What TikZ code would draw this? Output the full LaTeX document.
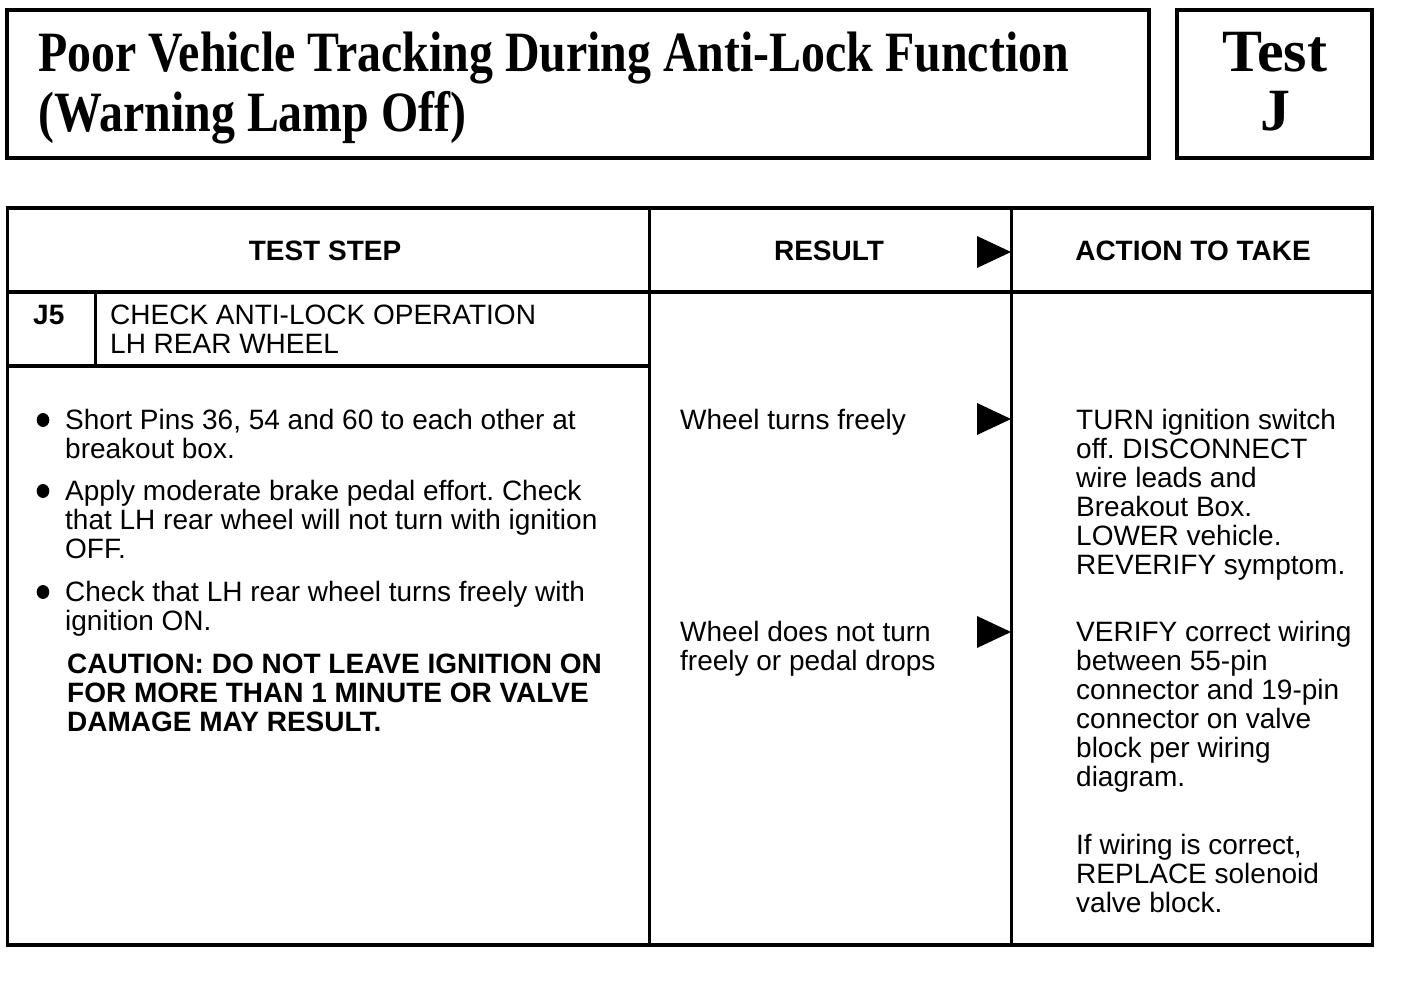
\documentclass[tikz,border=0pt]{standalone}
\usepackage{fontspec}
\setmainfont{Liberation Sans}
\newfontfamily\headfont[FakeStretch=0.84]{Liberation Serif}
\newfontfamily\testfont{Liberation Serif}
\frenchspacing

\begin{document}
\begin{tikzpicture}[x=1pt,y=-1pt,
	hrule/.style={line width=4pt},
	vrule/.style={line width=3pt},
	txt/.style={anchor=base west,inner sep=0pt,font=\fontsize{28}{29}\selectfont},
	btxt/.style={txt,font=\fontsize{28}{29}\selectfont\bfseries},
	hdr/.style={anchor=base,inner sep=0pt,font=\fontsize{28}{29}\selectfont\bfseries},
	ttl/.style={anchor=base west,inner sep=0pt,font=\headfont\bfseries\fontsize{57}{60}\selectfont},
	tst/.style={anchor=base,inner sep=0pt,font=\testfont\bfseries\fontsize{60}{60}\selectfont}]
			\useasboundingbox (0,0) rectangle (1408,984);
			\draw[line width=3.4pt] (7,10) rectangle (1149,158);
			\node[ttl] (ttl1) at (38,72) {Poor Vehicle Tracking During Anti-Lock Function};
			\node[ttl] (ttl2) at (38,132) {(Warning Lamp Off)};
			\draw[line width=3.4pt] (1177,10) rectangle (1372,158);
			\node[tst] (test) at (1275,72) {Test};
			\node[tst] (testJ) at (1275,131) {J};
			\draw[vrule] (7,208) -- (7,945);
			\draw[vrule] (1372,208) -- (1372,945);
			\draw[vrule] (649,208) -- (649,945);
			\draw[vrule] (1011,208) -- (1011,945);
			\draw[vrule] (95,291) -- (95,366);
			\draw[hrule] (5.5,208) -- (1373.5,208);
			\draw[hrule] (7,292) -- (1372,292);
			\draw[hrule] (7,366) -- (649,366);
			\draw[hrule] (5.5,945) -- (1373.5,945);
			\node[hdr] (hstep) at (325,261) {TEST STEP};
			\node[hdr] (hres) at (829,261) {RESULT};
			\node[hdr] (hact) at (1193,261) {ACTION TO TAKE};
			\foreach \y in {252,419,632}
				\fill (977,\y-16) -- (1011,\y) -- (977,\y+16) -- cycle;
			\node[btxt] (j5) at (33,324) {J5};
			\node[txt] (chk1) at (110,324) {CHECK ANTI-LOCK OPERATION};
			\node[txt] (chk2) at (110,353) {LH REAR WHEEL};
			\foreach \y in {420,491,592}
				\fill (43,\y) ellipse (6.3 and 7);
			\foreach \t [count=\i from 0] in {{Short Pins 36, 54 and 60 to each other at},breakout box.}
				\node[txt] (sa\i) at (65,429+29*\i) {\t};
			\foreach \t [count=\i from 0] in {Apply moderate brake pedal effort. Check,that LH rear wheel will not turn with ignition,OFF.}
				\node[txt] (sb\i) at (65,500+29*\i) {\t};
			\foreach \t [count=\i from 0] in {Check that LH rear wheel turns freely with,ignition ON.}
				\node[txt] (sc\i) at (65,601+29*\i) {\t};
			\foreach \t [count=\i from 0] in {CAUTION: DO NOT LEAVE IGNITION ON,FOR MORE THAN 1 MINUTE OR VALVE,DAMAGE MAY RESULT.}
				\node[btxt] (cau\i) at (67,673+29*\i) {\t};
			\node[txt] (ra) at (680,429) {Wheel turns freely};
			\node[txt] (rb0) at (680,641) {Wheel does not turn};
			\node[txt] (rb1) at (680,670) {freely or pedal drops};
			\foreach \t [count=\i from 0] in {TURN ignition switch,off. DISCONNECT,wire leads and,Breakout Box.,LOWER vehicle.,REVERIFY symptom.}
				\node[txt] (aa\i) at (1076,429+29*\i) {\t};
			\foreach \t [count=\i from 0] in {VERIFY correct wiring,between 55-pin,connector and 19-pin,connector on valve,block per wiring,diagram.}
				\node[txt] (ab\i) at (1076,641+29*\i) {\t};
			\foreach \t [count=\i from 0] in {{If wiring is correct,},REPLACE solenoid,valve block.}
				\node[txt] (ac\i) at (1076,854+29*\i) {\t};
\end{tikzpicture}
\end{document}
